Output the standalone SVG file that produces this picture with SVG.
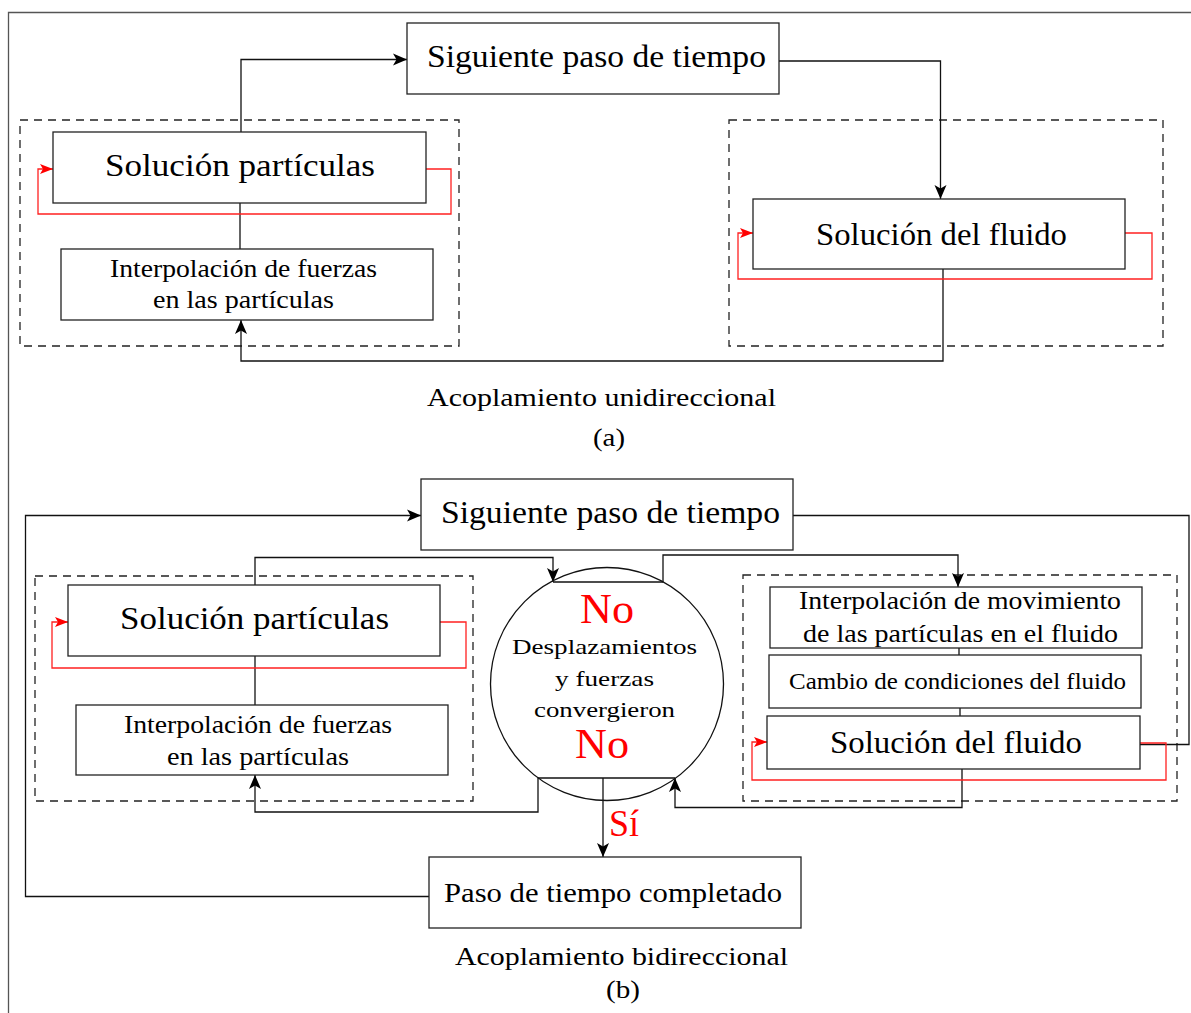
<svg xmlns="http://www.w3.org/2000/svg" width="1191" height="1013" viewBox="0 0 1191 1013">
<style>
text{font-family:"Liberation Serif","DejaVu Serif",serif;fill:#000}
.box{fill:#fff;stroke:#222;stroke-width:1.3}
.dash{fill:none;stroke:#222;stroke-width:1.3;stroke-dasharray:8 6}
.ln{fill:none;stroke:#111;stroke-width:1.3}
.red{fill:none;stroke:#ff2020;stroke-width:1.3}
.big{font-size:31px}
.med{font-size:25px}
.cap{font-size:26px}
.rtx{fill:#ff0000}
</style>
<defs>
<marker id="ab" viewBox="-15 -7 16 14" refX="0" refY="0" markerWidth="16" markerHeight="14" markerUnits="userSpaceOnUse" orient="auto">
<path d="M0,0 L-14,-6 L-10.5,0 L-14,6 Z" fill="#000"/>
</marker>
<marker id="ar" viewBox="-13 -6 14 12" refX="0" refY="0" markerWidth="14" markerHeight="12" markerUnits="userSpaceOnUse" orient="auto">
<path d="M0,0 L-13,-5 L-10,0 L-13,5 Z" fill="#ff0000"/>
</marker>
</defs>
<rect width="1191" height="1013" fill="#fff"/>
<g id="frame">
<path d="M8.5,1013 V12.5 H1191" fill="none" stroke="#555" stroke-width="1.3"/>
</g>
<g id="groups">
<rect class="dash" x="20" y="120" width="439" height="226"/>
<rect class="dash" x="729" y="120" width="434" height="226"/>
<rect class="dash" x="35" y="576" width="438" height="225"/>
<rect class="dash" x="743" y="575" width="434" height="226"/>
</g>
<g id="connectors">
<path class="ln" d="M241,132 V59.5 H407" marker-end="url(#ab)"/>
<path class="ln" d="M779,61 H940.5 V199" marker-end="url(#ab)"/>
<path class="ln" d="M943,269 V361 H241 V320" marker-end="url(#ab)"/>
<path class="ln" d="M240,203 V249"/>
<path class="red" d="M426,169 H451 V214 H38 V169 H53" marker-end="url(#ar)"/>
<path class="red" d="M1125,233 H1152 V279 H738 V233 H753" marker-end="url(#ar)"/>
<path class="ln" d="M429,896.5 H25.5 V515.5 H421" marker-end="url(#ab)"/>
<path class="ln" d="M793,515.5 H1189 V744.5 H1140"/>
<path class="ln" d="M255,585 V557.5 H553 V582" marker-end="url(#ab)"/>
<path class="ln" d="M553,582 H663"/>
<path class="ln" d="M663,582 V555 H958 V587" marker-end="url(#ab)"/>
<path class="ln" d="M538,778 H675"/>
<path class="ln" d="M538,778 V812 H255 V775" marker-end="url(#ab)"/>
<path class="ln" d="M962,769 V807.5 H675 V778" marker-end="url(#ab)"/>
<path class="ln" d="M603,778 V857" marker-end="url(#ab)"/>
<path class="ln" d="M255,656 V705"/>
<path class="ln" d="M959,648 V655"/>
<path class="ln" d="M960,708 V716"/>
<path class="red" d="M440,622 H466 V668 H52 V622 H68" marker-end="url(#ar)"/>
<path class="red" d="M1140,743 H1166 V780 H752 V742 H767" marker-end="url(#ar)"/>
</g>
<g id="n-siguiente-a">
<rect class="box" x="407" y="23" width="372" height="71"/>
<text class="big" x="427" y="67" textLength="339" lengthAdjust="spacingAndGlyphs">Siguiente paso de tiempo</text>
</g>
<g id="n-solpart-a">
<rect class="box" x="53" y="132" width="373" height="71"/>
<text class="big" x="105" y="176" textLength="270" lengthAdjust="spacingAndGlyphs">Solución partículas</text>
</g>
<g id="n-interp-a">
<rect class="box" x="61" y="249" width="372" height="71"/>
<text class="med" x="110" y="277" textLength="267" lengthAdjust="spacingAndGlyphs">Interpolación de fuerzas</text>
<text class="med" x="153" y="308" textLength="181" lengthAdjust="spacingAndGlyphs">en las partículas</text>
</g>
<g id="n-solfl-a">
<rect class="box" x="753" y="199" width="372" height="70"/>
<text class="big" x="816" y="245" textLength="251" lengthAdjust="spacingAndGlyphs">Solución del fluido</text>
</g>
<g id="cap-a">
<text class="cap" x="427" y="406" textLength="349" lengthAdjust="spacingAndGlyphs">Acoplamiento unidireccional</text>
<text class="cap" x="593" y="446" textLength="32" lengthAdjust="spacingAndGlyphs">(a)</text>
</g>
<g id="n-siguiente-b">
<rect class="box" x="421" y="479" width="372" height="71"/>
<text class="big" x="441" y="523" textLength="339" lengthAdjust="spacingAndGlyphs">Siguiente paso de tiempo</text>
</g>
<g id="n-solpart-b">
<rect class="box" x="68" y="585" width="372" height="71"/>
<text class="big" x="120" y="629" textLength="269" lengthAdjust="spacingAndGlyphs">Solución partículas</text>
</g>
<g id="n-interp-b">
<rect class="box" x="76" y="705" width="372" height="70"/>
<text class="med" x="124" y="733" textLength="268" lengthAdjust="spacingAndGlyphs">Interpolación de fuerzas</text>
<text class="med" x="167" y="765" textLength="182" lengthAdjust="spacingAndGlyphs">en las partículas</text>
</g>
<g id="n-decision">
<circle cx="607" cy="684" r="116.5" fill="none" stroke="#111" stroke-width="1.3"/>
<text class="rtx" style="font-size:42px" x="580" y="623" textLength="54" lengthAdjust="spacingAndGlyphs">No</text>
<text style="font-size:22px" x="512" y="654" textLength="185" lengthAdjust="spacingAndGlyphs">Desplazamientos</text>
<text style="font-size:22px" x="555" y="686" textLength="99" lengthAdjust="spacingAndGlyphs">y fuerzas</text>
<text style="font-size:22px" x="534" y="717" textLength="141" lengthAdjust="spacingAndGlyphs">convergieron</text>
<text class="rtx" style="font-size:42px" x="575" y="758" textLength="54" lengthAdjust="spacingAndGlyphs">No</text>
<text class="rtx" style="font-size:38px" x="609" y="836" textLength="30" lengthAdjust="spacingAndGlyphs">Sí</text>
</g>
<g id="n-interpmov">
<rect class="box" x="770" y="587" width="372" height="61"/>
<text class="med" x="799" y="609" textLength="322" lengthAdjust="spacingAndGlyphs">Interpolación de movimiento</text>
<text class="med" x="803" y="642" textLength="315" lengthAdjust="spacingAndGlyphs">de las partículas en el fluido</text>
</g>
<g id="n-cambio">
<rect class="box" x="769" y="655" width="372" height="53"/>
<text style="font-size:23px" x="789" y="689" textLength="337" lengthAdjust="spacingAndGlyphs">Cambio de condiciones del fluido</text>
</g>
<g id="n-solfl-b">
<rect class="box" x="767" y="716" width="373" height="53"/>
<text class="big" x="830" y="753" textLength="252" lengthAdjust="spacingAndGlyphs">Solución del fluido</text>
</g>
<g id="n-paso">
<rect class="box" x="429" y="857" width="372" height="71"/>
<text class="med" style="font-size:27px" x="444" y="902" textLength="338" lengthAdjust="spacingAndGlyphs">Paso de tiempo completado</text>
</g>
<g id="cap-b">
<text class="cap" x="455" y="965" textLength="333" lengthAdjust="spacingAndGlyphs">Acoplamiento bidireccional</text>
<text class="cap" x="606" y="998" textLength="34" lengthAdjust="spacingAndGlyphs">(b)</text>
</g>
</svg>
